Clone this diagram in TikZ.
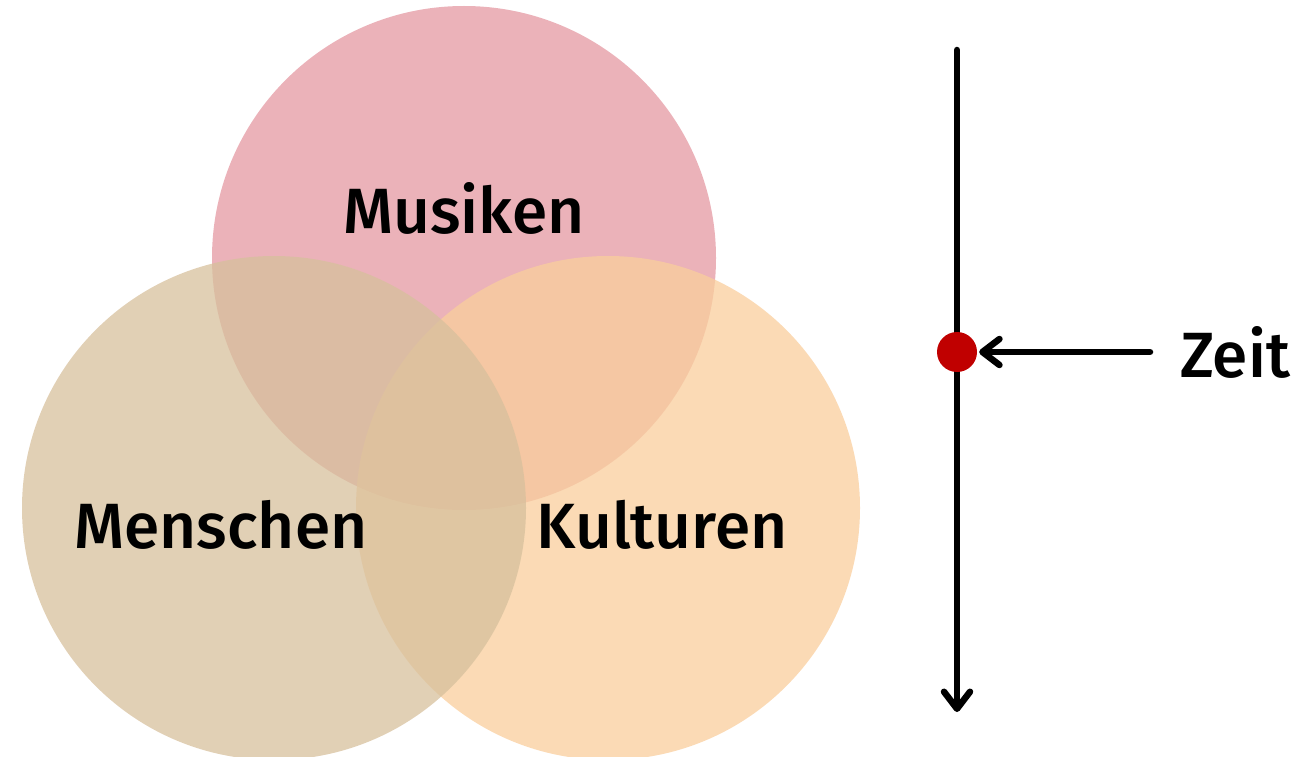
\documentclass[tikz,border=0pt]{standalone}
\usepackage{fontspec}
\usetikzlibrary{arrows.meta}
\newfontfamily\labfont{Fira Sans Medium}
\definecolor{cMus}{RGB}{228,152,162}
\definecolor{cMen}{RGB}{215,192,156}
\definecolor{cKul}{RGB}{249,206,156}
\definecolor{cDot}{RGB}{192,0,0}
\begin{document}
\begin{tikzpicture}[x=1pt,y=-1pt,
  blob/.style={circle,minimum size=504pt,inner sep=0pt,fill opacity=0.75},
  lab/.style={font=\labfont\fontsize{64}{64}\selectfont,text=black,inner sep=0pt},
  axis/.style={line width=6.5pt,line cap=round,-{Straight Barb[length=17pt,width=26pt,line cap=round,line join=round]}}]
\useasboundingbox (0,0) rectangle (1299,757);
\node[blob,fill=cMus] (mus) at (464,258) {};
\node[blob,fill=cKul] (kul) at (608,508) {};
\node[blob,fill=cMen] (men) at (274,508) {};
\node[lab] (tmus) at (464,208) {Musiken};
\node[lab] (tmen) at (221,525) {Menschen};
\node[lab] (tkul) at (662,525) {Kulturen};
\coordinate (top) at (957,50);
\coordinate (bot) at (957,712);
\draw[axis] (top) -- (bot);
\node[circle,fill=cDot,minimum size=40pt,inner sep=0pt] (dot) at (957,352) {};
\node[lab] (zeit) at (1235,352) {Zeit};
\coordinate (zstart) at (1150,352);
\draw[axis,shorten >=2pt] (zstart) -- (dot);
\end{tikzpicture}
\end{document}
